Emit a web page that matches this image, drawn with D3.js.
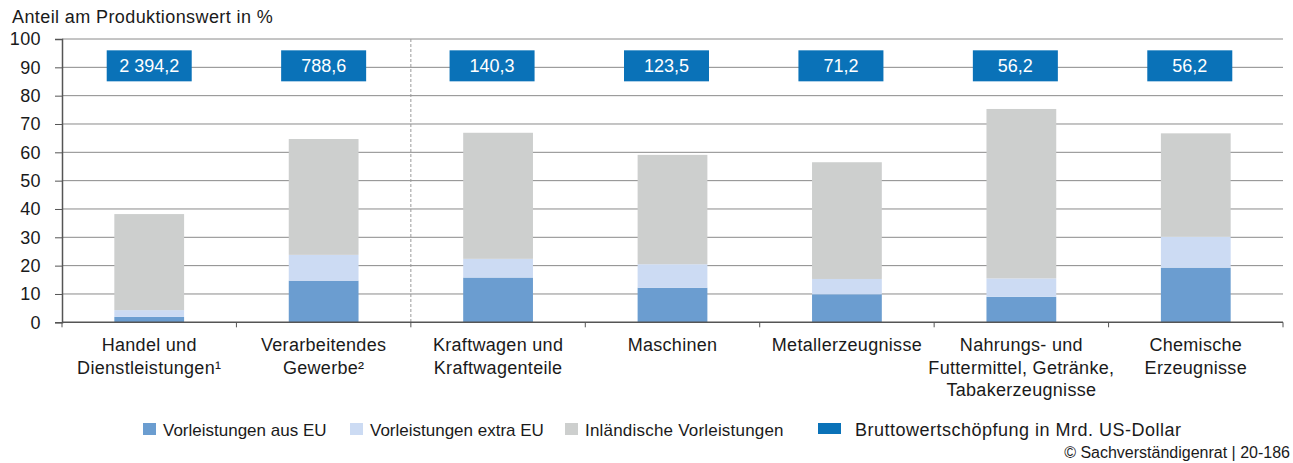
<!DOCTYPE html>
<html>
<head>
<meta charset="utf-8">
<script src="https://cdn.jsdelivr.net/npm/d3@7"></script>
<style>
  body { margin: 0; background: #fff; }
  text { font-family: "Liberation Sans", Arial, Helvetica, sans-serif; fill: #1a1a1a; }
</style>
</head>
<body>
<div id="chart"></div>
<script>
// categories (line breaks as in the original labels)
var categories = [
  ["Handel und", "Dienstleistungen¹"],
  ["Verarbeitendes", "Gewerbe²"],
  ["Kraftwagen und", "Kraftwagenteile"],
  ["Maschinen"],
  ["Metallerzeugnisse"],
  ["Nahrungs- und", "Futtermittel, Getränke,", "Tabakerzeugnisse"],
  ["Chemische", "Erzeugnisse"]
];

// shares of production value in %
var vorleistungenEU = [1.9, 14.7, 15.8, 12.2, 9.9, 9.0, 19.3];
var vorleistungenExtraEU = [2.4, 9.1, 6.6, 8.3, 5.4, 6.5, 10.9];
var inlaendischeVorleistungen = [33.9, 40.9, 44.5, 38.6, 41.2, 59.8, 36.5];

// gross value added in bn US-Dollar
var bruttowertschoepfung = [2394.2, 788.6, 140.3, 123.5, 71.2, 56.2, 56.2];

var yTicks = [0, 10, 20, 30, 40, 50, 60, 70, 80, 90, 100];

var seriesNames = ["Vorleistungen aus EU", "Vorleistungen extra EU", "Inländische Vorleistungen"];
var seriesColors = ["#6b9dd0", "#ccdbf3", "#cdcfce"];
var boxColor = "#0a72b8";

var svgWidth = 1293;
var svgHeight = 463;

var svg = d3.select("#chart")
  .append("svg")
  .attr("width", svgWidth)
  .attr("height", svgHeight);

var xScale = d3.scaleBand()
  .domain(d3.range(categories.length))
  .range([62, 1283])
  .padding(0);

var yScale = d3.scaleLinear()
  .domain([0, 100])
  .range([322.3, 39]);

// stacked data
var table = categories.map(function(c, i) {
  return {
    idx: i,
    eu: vorleistungenEU[i],
    extra: vorleistungenExtraEU[i],
    inland: inlaendischeVorleistungen[i]
  };
});
var stack = d3.stack().keys(["eu", "extra", "inland"]);
var layers = stack(table);

// title
svg.append("text")
  .attr("x", 12)
  .attr("y", 23)
  .attr("font-size", "18px")
  .attr("letter-spacing", "0.4px")
  .text("Anteil am Produktionswert in %");

// gridlines
svg.append("g")
  .selectAll("line")
  .data(yTicks.filter(d => d > 0))
  .enter()
  .append("line")
  .attr("x1", 62)
  .attr("x2", 1283)
  .attr("y1", d => yScale(d))
  .attr("y2", d => yScale(d))
  .attr("stroke", "#8a8a8a")
  .attr("stroke-width", 1);

// dashed separator after "Verarbeitendes Gewerbe"
svg.append("line")
  .attr("x1", xScale(2))
  .attr("x2", xScale(2))
  .attr("y1", yScale(100))
  .attr("y2", yScale(0))
  .attr("stroke", "#9a9a9a")
  .attr("stroke-width", 1)
  .attr("stroke-dasharray", "3,2");

// bars
var barWidth = xScale.bandwidth() * 0.4;
svg.append("g")
  .selectAll("g")
  .data(layers)
  .enter()
  .append("g")
  .attr("fill", (d, i) => seriesColors[i])
  .selectAll("rect")
  .data(d => d)
  .enter()
  .append("rect")
  .attr("x", d => xScale(d.data.idx) + (xScale.bandwidth() - barWidth) / 2)
  .attr("y", d => yScale(d[1]))
  .attr("width", barWidth)
  .attr("height", d => yScale(d[0]) - yScale(d[1]));

// y axis
var leftAxis = d3.axisLeft(yScale)
  .tickValues(yTicks)
  .tickSize(7)
  .tickPadding(14)
  .tickFormat(d3.format("d"));

var yAxis = svg.append("g")
  .attr("transform", "translate(62,0)")
  .call(leftAxis);
yAxis.select(".domain").attr("stroke", "#555").attr("stroke-width", 1.5);
yAxis.selectAll(".tick line").attr("stroke", "#555");
yAxis.selectAll(".tick text")
  .attr("font-size", "18px")
  .attr("letter-spacing", "0.4px")
  .attr("fill", "#1a1a1a")
  .attr("font-family", "Liberation Sans, Arial, sans-serif");

// x axis
var xAxisG = svg.append("g");
xAxisG.append("line")
  .attr("x1", 62)
  .attr("x2", 1283)
  .attr("y1", yScale(0))
  .attr("y2", yScale(0))
  .attr("stroke", "#555")
  .attr("stroke-width", 1.5);
xAxisG.selectAll(".xtick")
  .data(d3.range(categories.length + 1))
  .enter()
  .append("line")
  .attr("class", "xtick")
  .attr("x1", d => d < categories.length ? xScale(d) : xScale.range()[1])
  .attr("x2", d => d < categories.length ? xScale(d) : xScale.range()[1])
  .attr("y1", yScale(0))
  .attr("y2", yScale(0) + 5)
  .attr("stroke", "#555");

// category labels
var catLabels = svg.append("g")
  .selectAll("text")
  .data(categories)
  .enter()
  .append("text")
  .attr("x", (d, i) => xScale(i) + xScale.bandwidth() / 2)
  .attr("y", 351)
  .attr("text-anchor", "middle")
  .attr("font-size", "18px")
  .attr("letter-spacing", "0.3px");
catLabels.selectAll("tspan")
  .data(d => d)
  .enter()
  .append("tspan")
  .attr("x", function() { return d3.select(this.parentNode).attr("x"); })
  .attr("dy", (d, i) => i === 0 ? 0 : 22.5)
  .text(d => d);

// value boxes
var de = d3.formatLocale({ decimal: ",", thousands: " ", grouping: [3], currency: ["", " $"] });
var fmt = de.format(",.1f");
var boxW = 85, boxH = 31;
var boxes = svg.append("g")
  .selectAll("g")
  .data(bruttowertschoepfung)
  .enter()
  .append("g")
  .attr("transform", (d, i) => `translate(${xScale(i) + xScale.bandwidth() / 2 - (i >= 2 ? 6 : 0)}, ${yScale(90) - 1.5})`);
boxes.append("rect")
  .attr("x", -boxW / 2)
  .attr("y", -boxH / 2)
  .attr("width", boxW)
  .attr("height", boxH)
  .attr("fill", boxColor);
boxes.append("text")
  .attr("text-anchor", "middle")
  .attr("y", 6.5)
  .attr("font-size", "18px")
  .style("fill", "#fff")
  .text(d => fmt(d));

// legend
var legendItems = [
  { label: seriesNames[0], color: seriesColors[0], x: 143, w: 13, size: 17, ls: 0 },
  { label: seriesNames[1], color: seriesColors[1], x: 350, w: 13, size: 17, ls: 0 },
  { label: seriesNames[2], color: seriesColors[2], x: 565, w: 13, size: 17, ls: 0.2 },
  { label: "Bruttowertschöpfung in Mrd. US-Dollar", color: boxColor, x: 818, w: 23, size: 18, ls: 0.5 }
];
var legend = svg.append("g")
  .selectAll("g")
  .data(legendItems)
  .enter()
  .append("g");
legend.append("rect")
  .attr("x", d => d.x)
  .attr("y", 423)
  .attr("width", d => d.w)
  .attr("height", d => d.w === 13 ? 12 : 11)
  .attr("fill", d => d.color);
legend.append("text")
  .attr("x", (d, i) => d.x + d.w + (i === 3 ? 14 : 7))
  .attr("y", 436)
  .attr("font-size", d => d.size + "px")
  .attr("letter-spacing", d => d.ls + "px")
  .text(d => d.label);

// source
svg.append("text")
  .attr("x", 1290)
  .attr("y", 458)
  .attr("text-anchor", "end")
  .attr("font-size", "16px")
  .text("© Sachverständigenrat | 20-186");
</script>
</body>
</html>
